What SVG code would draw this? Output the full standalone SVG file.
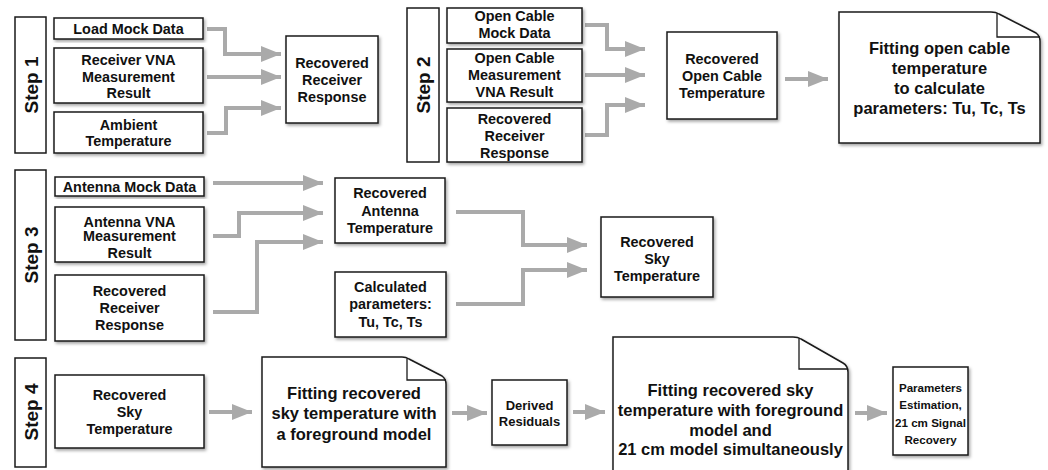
<svg xmlns="http://www.w3.org/2000/svg" width="1048" height="470" viewBox="0 0 1048 470">
  <style>
    .box { fill: #ffffff; stroke: #1a1a1a; stroke-width: 1.5; filter: url(#shadow); }
    .step { fill: #ffffff; stroke: #1a1a1a; stroke-width: 1.5; }
    .fold { fill: none; stroke: #1a1a1a; stroke-width: 1.3; }
    text { font-family: "Liberation Sans", Arial, Helvetica, sans-serif; font-weight: bold; fill: #111111; text-anchor: middle; }
    .t { font-size: 14.4px; }
    .tr { font-size: 13px; }
    .ts { font-size: 11.6px; }
    .tn { font-size: 16.5px; }
    .tl { font-size: 19px; }
    .flow { fill: none; stroke: #aaaaaa; stroke-width: 4; stroke-linejoin: miter; marker-end: url(#arrow); }
  </style>
  <defs>
    <filter id="shadow" x="-10%" y="-10%" width="125%" height="125%">
      <feDropShadow dx="1.5" dy="2" stdDeviation="1.5" flood-color="#000000" flood-opacity="0.35"/>
    </filter>
    <marker id="arrow" markerUnits="userSpaceOnUse" markerWidth="20" markerHeight="16" refX="20" refY="8" orient="auto">
      <path d="M0,0 L20,8 L0,16 Z" fill="#aaaaaa"/>
    </marker>
  </defs>

  <rect width="1048" height="470" fill="#ffffff"/>

  <!-- step labels -->
  <g id="step1">
    <rect class="step" x="15" y="17" width="31" height="136"/>
    <text class="tl" transform="translate(31,85) rotate(-90)" y="7">Step 1</text>
  </g>
  <g id="step2">
    <rect class="step" x="407" y="8" width="32" height="154"/>
    <text class="tl" transform="translate(423,85) rotate(-90)" y="7">Step 2</text>
  </g>
  <g id="step3">
    <rect class="step" x="15" y="170" width="31" height="170"/>
    <text class="tl" transform="translate(31,255) rotate(-90)" y="7">Step 3</text>
  </g>
  <g id="step4">
    <rect class="step" x="15" y="358" width="31" height="109"/>
    <text class="tl" transform="translate(31,412) rotate(-90)" y="7">Step 4</text>
  </g>

  <!-- connectors -->
  <g id="connectors">
    <path class="flow" d="M207,29 H225 V54 H281"/>
    <path class="flow" d="M207,77 H281"/>
    <path class="flow" d="M207,133 H226 V108 H281"/>

    <path class="flow" d="M585,25 H607 V49 H645"/>
    <path class="flow" d="M585,75 H645"/>
    <path class="flow" d="M585,135 H607 V105 H645"/>
    <path class="flow" d="M785,79 H828"/>

    <path class="flow" d="M213,183 H323"/>
    <path class="flow" d="M213,236 H239 V213 H323"/>
    <path class="flow" d="M213,312 H257 V242 H323"/>
    <path class="flow" d="M456,212 H523 V245 H587"/>
    <path class="flow" d="M456,304 H523 V270 H587"/>

    <path class="flow" d="M209,412 H252"/>
    <path class="flow" d="M452,413 H487"/>
    <path class="flow" d="M573,412 H605"/>
    <path class="flow" d="M855,413 H887"/>
  </g>

  <!-- step 1 -->
  <g id="load-mock">
    <rect class="box" x="54" y="18" width="149" height="21"/>
    <text class="t" x="128.5" y="34">Load Mock Data</text>
  </g>
  <g id="receiver-vna">
    <rect class="box" x="54" y="48" width="149" height="55"/>
    <text class="t" x="128.5" y="65">Receiver VNA</text>
    <text class="t" x="128.5" y="82">Measurement</text>
    <text class="t" x="128.5" y="98">Result</text>
  </g>
  <g id="ambient">
    <rect class="box" x="54" y="112" width="149" height="41"/>
    <text class="t" x="128.5" y="130">Ambient</text>
    <text class="t" x="128.5" y="146">Temperature</text>
  </g>
  <g id="receiver-response">
    <rect class="box" x="286" y="36" width="92" height="87"/>
    <text class="t" x="332" y="68">Recovered</text>
    <text class="t" x="332" y="85">Receiver</text>
    <text class="t" x="332" y="102">Response</text>
  </g>

  <!-- step 2 -->
  <g id="open-mock">
    <rect class="box" x="447" y="8" width="135" height="35"/>
    <text class="t" x="514.5" y="21">Open Cable</text>
    <text class="t" x="514.5" y="38">Mock Data</text>
  </g>
  <g id="open-vna">
    <rect class="box" x="447" y="49" width="135" height="53"/>
    <text class="t" x="514.5" y="63">Open Cable</text>
    <text class="t" x="514.5" y="80">Measurement</text>
    <text class="t" x="514.5" y="97">VNA Result</text>
  </g>
  <g id="receiver-response-2">
    <rect class="box" x="447" y="108" width="135" height="54"/>
    <text class="t" x="514.5" y="124">Recovered</text>
    <text class="t" x="514.5" y="141">Receiver</text>
    <text class="t" x="514.5" y="158">Response</text>
  </g>
  <g id="open-temp">
    <rect class="box" x="667" y="32" width="110" height="87"/>
    <text class="t" x="722" y="64">Recovered</text>
    <text class="t" x="722" y="81">Open Cable</text>
    <text class="t" x="722" y="98">Temperature</text>
  </g>
  <g id="fit-open">
    <path class="box" d="M839,12 H991 Q996,12 999,14 L1036,33 Q1040,36 1040,41 V143 H839 Z"/>
    <path class="fold" d="M997,13.5 V37 H1040"/>
    <text class="tn" x="939.5" y="54">Fitting open cable</text>
    <text class="tn" x="939.5" y="74">temperature</text>
    <text class="tn" x="939.5" y="94">to calculate</text>
    <text class="tn" x="939.5" y="114">parameters: Tu, Tc, Ts</text>
  </g>

  <!-- step 3 -->
  <g id="antenna-mock">
    <rect class="box" x="55" y="177" width="149" height="19"/>
    <text class="t" x="129.5" y="191.5">Antenna Mock Data</text>
  </g>
  <g id="antenna-vna">
    <rect class="box" x="55" y="207" width="149" height="55"/>
    <text class="t" x="129.5" y="227">Antenna VNA</text>
    <text class="t" x="129.5" y="241">Measurement</text>
    <text class="t" x="129.5" y="258">Result</text>
  </g>
  <g id="receiver-response-3">
    <rect class="box" x="55" y="275" width="149" height="66"/>
    <text class="t" x="129.5" y="296">Recovered</text>
    <text class="t" x="129.5" y="313">Receiver</text>
    <text class="t" x="129.5" y="330">Response</text>
  </g>
  <g id="antenna-temp">
    <rect class="box" x="335" y="178" width="110" height="65"/>
    <text class="t" x="390" y="198">Recovered</text>
    <text class="t" x="390" y="216">Antenna</text>
    <text class="t" x="390" y="233">Temperature</text>
  </g>
  <g id="calc-params">
    <rect class="box" x="335" y="272" width="111" height="65"/>
    <text class="t" x="390.5" y="292">Calculated</text>
    <text class="t" x="390.5" y="309">parameters:</text>
    <text class="t" x="390.5" y="327">Tu, Tc, Ts</text>
  </g>
  <g id="sky-temp">
    <rect class="box" x="601" y="217" width="112" height="80"/>
    <text class="t" x="657" y="247">Recovered</text>
    <text class="t" x="657" y="264">Sky</text>
    <text class="t" x="657" y="281">Temperature</text>
  </g>

  <!-- step 4 -->
  <g id="sky-temp-2">
    <rect class="box" x="55" y="375" width="149" height="73"/>
    <text class="t" x="129.5" y="400">Recovered</text>
    <text class="t" x="129.5" y="417">Sky</text>
    <text class="t" x="129.5" y="434">Temperature</text>
  </g>
  <g id="fit-foreground">
    <path class="box" d="M262,357 H402 Q406,357 409,359 L442,376 Q446,379 446,384 V467 H262 Z"/>
    <path class="fold" d="M407,358.5 V380 H446"/>
    <text class="tn" x="354" y="399">Fitting recovered</text>
    <text class="tn" x="354" y="419">sky temperature with</text>
    <text class="tn" x="354" y="440">a foreground model</text>
  </g>
  <g id="residuals">
    <rect class="box" x="492" y="380" width="75" height="65"/>
    <text class="tr" x="529.5" y="409.5">Derived</text>
    <text class="tr" x="529.5" y="425.5">Residuals</text>
  </g>
  <g id="fit-21cm">
    <path class="box" d="M613,337 H793 Q798,337 801,339 L843,363 Q848,366 848,372 V480 H613 Z"/>
    <path class="fold" d="M799,338.5 V369 H848"/>
    <text class="tn" x="730.5" y="396">Fitting recovered sky</text>
    <text class="tn" x="730.5" y="416">temperature with foreground</text>
    <text class="tn" x="730.5" y="436">model and</text>
    <text class="tn" x="730.5" y="455"> 21 cm model simultaneously</text>
  </g>
  <g id="estimation">
    <rect class="box" x="893" y="367" width="75" height="88"/>
    <text class="ts" x="930.5" y="392">Parameters</text>
    <text class="ts" x="930.5" y="409">Estimation,</text>
    <text class="ts" x="930.5" y="427">21 cm Signal</text>
    <text class="ts" x="930.5" y="444">Recovery</text>
  </g>
</svg>
